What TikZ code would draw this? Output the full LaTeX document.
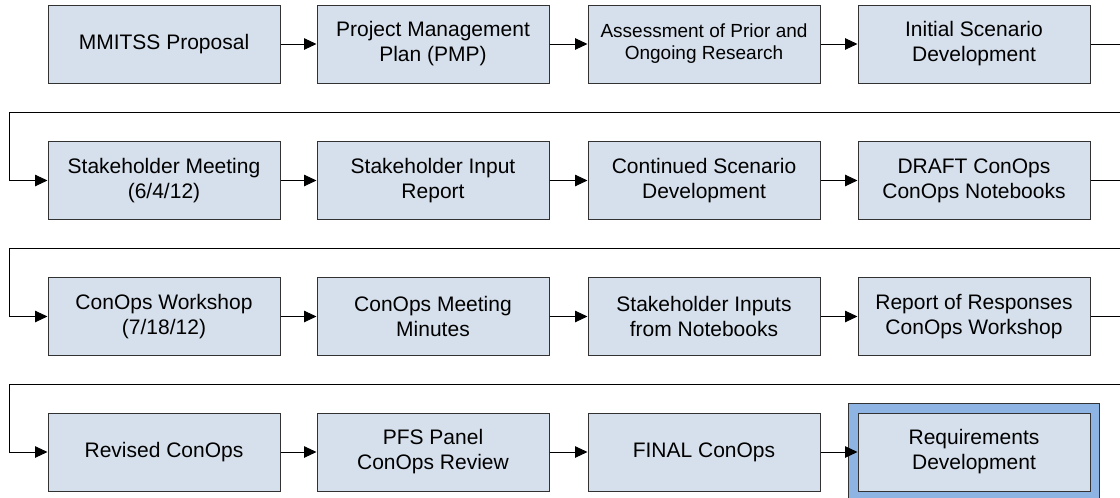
\documentclass[tikz,border=0pt]{standalone}
\usepackage{fontspec}
\setmainfont{Liberation Sans}
\usetikzlibrary{arrows.meta}
\definecolor{boxfill}{RGB}{214,224,236}
\definecolor{boxline}{RGB}{50,50,50}
\definecolor{hilite}{RGB}{142,180,227}
\tikzset{
  stepbox/.style={draw=boxline, line width=1pt, fill=boxfill, minimum width=232pt, minimum height=78pt, inner sep=0pt, align=center, font=\fontsize{21}{25}\selectfont},
  smalltext/.style={font=\fontsize{19}{22}\selectfont},
  arr/.style={draw=black, line width=0.9pt, -{Triangle[length=12.5pt,width=11.5pt]}},
}
\begin{document}
\begin{tikzpicture}[x=1pt,y=-1pt]
\useasboundingbox (0,0) rectangle (1120,498);
% highlight frame behind last box
\filldraw[fill=hilite, draw=boxline, line width=1pt] (848,403) rectangle (1099,506);
% row 1
\node[stepbox] (a1) at (164,44) {MMITSS Proposal};
\node[stepbox] (a2) at (433,44) {Project Management\\Plan (PMP)};
\node[stepbox,smalltext] (a3) at (704,44) {Assessment of Prior and\\Ongoing Research};
\node[stepbox] (a4) at (974,44) {Initial Scenario\\Development};
% row 2
\node[stepbox] (b1) at (164,180.5) {Stakeholder Meeting\\(6/4/12)};
\node[stepbox] (b2) at (433,180.5) {Stakeholder Input\\Report};
\node[stepbox] (b3) at (704,180.5) {Continued Scenario\\Development};
\node[stepbox] (b4) at (974,180.5) {DRAFT ConOps\\ConOps Notebooks};
% row 3
\node[stepbox] (c1) at (164,316.5) {ConOps Workshop\\(7/18/12)};
\node[stepbox] (c2) at (433,316.5) {ConOps Meeting\\Minutes};
\node[stepbox] (c3) at (704,316.5) {Stakeholder Inputs\\from Notebooks};
\node[stepbox] (c4) at (974,316.5) {Report of Responses\\ConOps Workshop};
% row 4
\node[stepbox] (d1) at (164,452) {Revised ConOps};
\node[stepbox] (d2) at (433,452) {PFS Panel\\ConOps Review};
\node[stepbox] (d3) at (704,452) {FINAL ConOps};
\node[stepbox] (d4) at (974,452) {Requirements\\Development};
% turn coordinates
\coordinate (r1) at (1126,112);
\coordinate (l1) at (9,112);
\coordinate (r2) at (1126,248.5);
\coordinate (l2) at (9,248.5);
\coordinate (r3) at (1126,384);
\coordinate (l3) at (9,384);
% connectors
\draw[arr] (a1) -- (a2);
\draw[arr] (a2) -- (a3);
\draw[arr] (a3) -- (a4);
\draw[arr] (a4.east) -| (r1) -- (l1) |- (b1.west);
\draw[arr] (b1) -- (b2);
\draw[arr] (b2) -- (b3);
\draw[arr] (b3) -- (b4);
\draw[arr] (b4.east) -| (r2) -- (l2) |- (c1.west);
\draw[arr] (c1) -- (c2);
\draw[arr] (c2) -- (c3);
\draw[arr] (c3) -- (c4);
\draw[arr] (c4.east) -| (r3) -- (l3) |- (d1.west);
\draw[arr] (d1) -- (d2);
\draw[arr] (d2) -- (d3);
\draw[arr] (d3) -- (d4);
\end{tikzpicture}
\end{document}
